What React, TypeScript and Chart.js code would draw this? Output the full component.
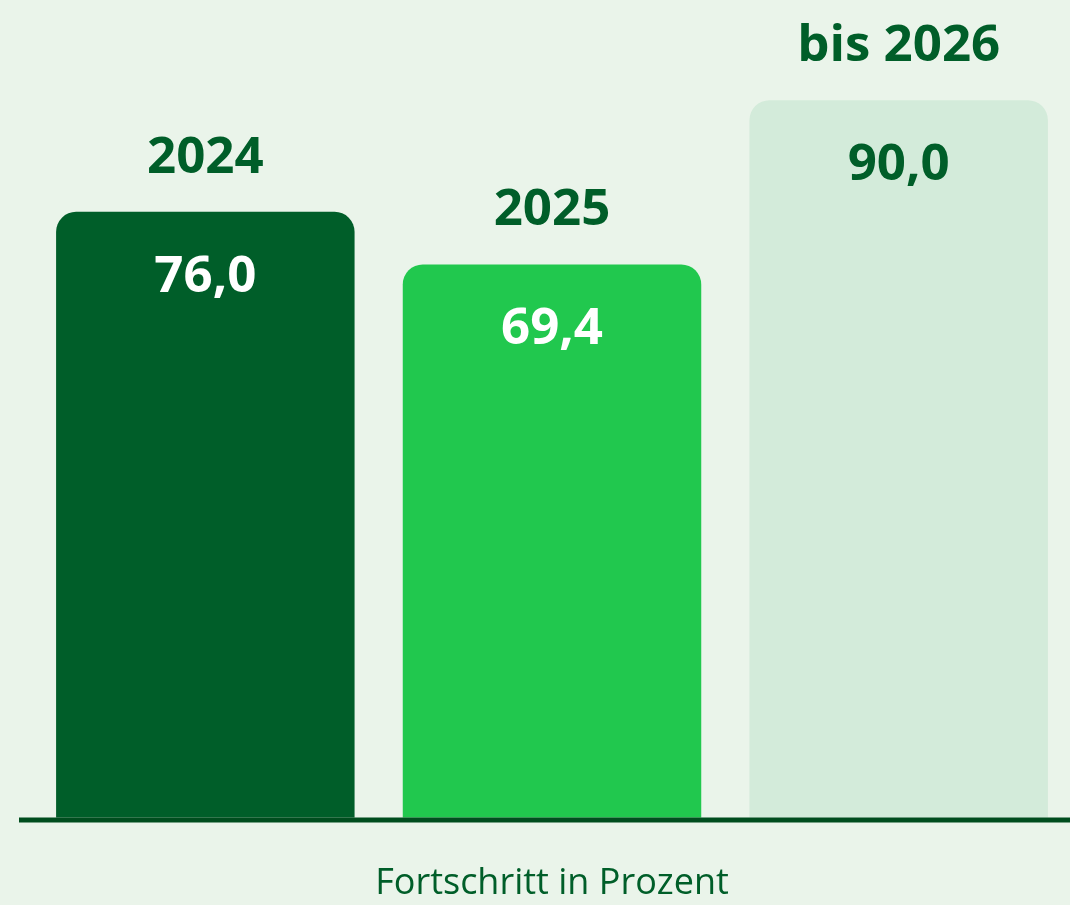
import React, { useEffect, useRef } from "react";
import { Chart, registerables } from "chart.js";

Chart.register(...registerables);

const categories = ["2024", "2025", "bis 2026"];
const values = [76.0, 69.4, 90.0];
const valueLabels = ["76,0", "69,4", "90,0"];
const barColors = ["#005E29", "#21C84E", "#D3EBDA"];
const valueColors = ["#FFFFFF", "#FFFFFF", "#005E29"];
const axisTitle = "Fortschritt in Prozent";

const BG = "#EAF4EA";
const DARK = "#005E29";
const FONT = "'Open Sans', 'Noto Sans', sans-serif";

export default function App() {
  const ref = useRef<HTMLCanvasElement | null>(null);

  useEffect(() => {
    const canvas = ref.current;
    if (!canvas) return;

    const labelPlugin = {
      id: "barLabels",
      afterDatasetsDraw(chart: any) {
        const ctx = chart.ctx;
        const meta = chart.getDatasetMeta(0);
        const yScale = chart.scales.y;
        const zeroY = yScale.getPixelForValue(0);
        ctx.save();
        // baseline
        ctx.strokeStyle = "#004D1E";
        ctx.lineWidth = 5;
        ctx.beginPath();
        ctx.moveTo(19, zeroY + 2.2);
        ctx.lineTo(chart.width, zeroY + 2.2);
        ctx.stroke();

        ctx.textAlign = "center";
        ctx.textBaseline = "alphabetic";
        ctx.font = `bold 51px ${FONT}`;
        meta.data.forEach((bar: any, i: number) => {
          ctx.fillStyle = DARK;
          ctx.fillText(categories[i], bar.x, bar.y - 39);
          ctx.fillStyle = valueColors[i];
          ctx.fillText(valueLabels[i], bar.x, bar.y + 80);
        });
        ctx.restore();
      },
    };

    const chart = new Chart(canvas, {
      type: "bar",
      data: {
        labels: categories,
        datasets: [
          {
            data: values,
            backgroundColor: barColors,
            borderRadius: 20,
            borderSkipped: "start",
            categoryPercentage: 1,
            barPercentage: 0.861,
          },
        ],
      },
      options: {
        responsive: false,
        animation: false,
        devicePixelRatio: 1,
        layout: { padding: { left: 32, right: 0, top: 0, bottom: 0 } },
        plugins: {
          legend: { display: false },
          tooltip: { enabled: false },
          title: { display: false },
        },
        scales: {
          y: {
            display: false,
            min: 0,
            max: 102.57,
          },
          x: {
            grid: { display: false, drawTicks: false },
            border: { display: false },
            ticks: { display: false },
            title: {
              display: true,
              text: axisTitle,
              color: DARK,
              font: { family: FONT, size: 36, weight: "normal" },
              padding: { top: 44, bottom: 0 },
            },
          },
        },
      },
      plugins: [labelPlugin],
    });

    return () => chart.destroy();
  }, []);

  return (
    <div
      style={{
        position: "fixed",
        left: 0,
        top: 0,
        width: 1070,
        height: 905,
        overflow: "hidden",
        background: BG,
      }}
    >
      <canvas ref={ref} width={1072} height={905} style={{ display: "block", width: 1072, height: 905 }} />
    </div>
  );
}
